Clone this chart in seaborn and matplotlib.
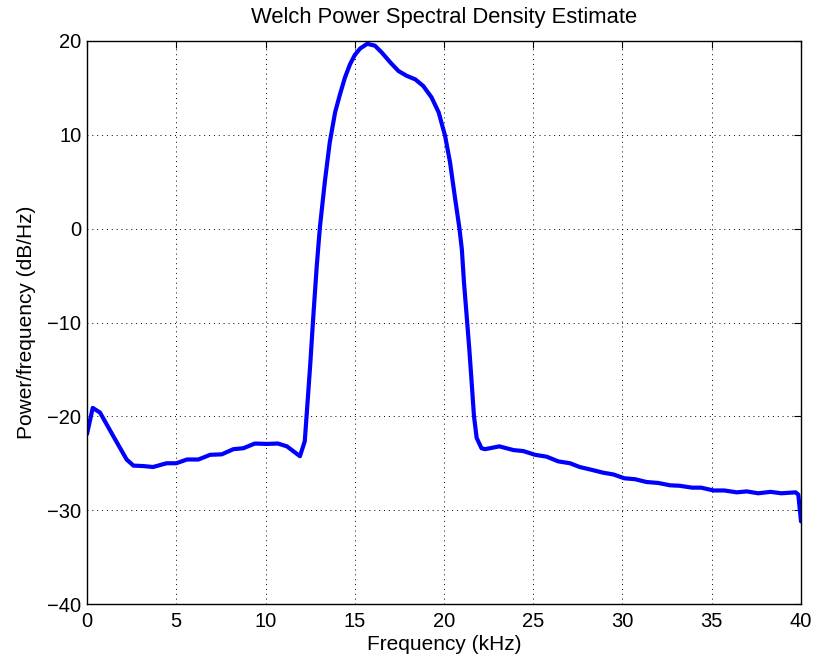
import matplotlib
matplotlib.use("Agg")
import matplotlib.pyplot as plt
import seaborn as sns
import pandas as pd

freq_khz = [0.0, 0.32, 0.73, 1.47, 2.22, 2.6, 3.15, 3.7, 4.46, 5.0, 5.6, 6.24, 6.9, 7.55,
            8.2, 8.76, 9.4, 10.07, 10.7, 11.2, 11.93, 12.2, 12.5, 12.68, 12.87, 13.05,
            13.33, 13.6, 13.9, 14.17, 14.45, 14.73, 15.0, 15.3, 15.7, 16.13, 16.5, 17.0,
            17.45, 17.9, 18.4, 18.84, 19.3, 19.7, 20.06, 20.34, 20.6, 20.86, 21.0, 21.12,
            21.27, 21.42, 21.55, 21.68, 21.83, 22.1, 22.3, 23.1, 23.9, 24.44, 25.1, 25.75,
            26.4, 27.06, 27.6, 28.27, 28.9, 29.5, 30.1, 30.7, 31.35, 32.0, 32.66, 33.2,
            33.9, 34.4, 35.1, 35.7, 36.4, 36.96, 37.6, 38.3, 38.9, 39.7, 39.85, 40.0]
psd_db = [-21.9, -19.1, -19.6, -22.1, -24.6, -25.25, -25.3, -25.4, -25.0, -25.0, -24.6,
          -24.6, -24.1, -24.05, -23.5, -23.4, -22.9, -22.94, -22.9, -23.2, -24.25, -22.65,
          -14.65, -9.3, -4.0, 0.2, 5.1, 9.2, 12.4, 14.3, 16.1, 17.5, 18.5, 19.2, 19.7,
          19.5, 18.8, 17.7, 16.8, 16.3, 15.9, 15.2, 14.0, 12.4, 9.9, 7.05, 3.5, 0.1, -2.2,
          -5.75, -9.3, -12.9, -16.4, -20.0, -22.3, -23.4, -23.5, -23.2, -23.6, -23.7,
          -24.1, -24.3, -24.8, -25.0, -25.4, -25.7, -26.0, -26.2, -26.6, -26.7, -27.0,
          -27.1, -27.35, -27.4, -27.6, -27.6, -27.9, -27.9, -28.1, -28.0, -28.2, -28.05,
          -28.2, -28.1, -28.35, -31.2]
x_ticks = [0, 5, 10, 15, 20, 25, 30, 35, 40]
y_ticks = [-40, -30, -20, -10, 0, 10, 20]

sns.set_style("white")
plt.rcParams["font.family"] = ["Liberation Sans", "DejaVu Sans"]
plt.rcParams["text.color"] = "black"
plt.rcParams["axes.labelcolor"] = "black"

df = pd.DataFrame({"Frequency (kHz)": freq_khz, "Power/frequency (dB/Hz)": psd_db})

fig = plt.figure(figsize=(8.17, 6.65), dpi=100)
ax = fig.add_axes([87 / 817, 61 / 665, 714 / 817, 563 / 665])
sns.lineplot(data=df, x="Frequency (kHz)", y="Power/frequency (dB/Hz)", ax=ax,
             color=(0, 0, 1), linewidth=3, sort=False, estimator=None)
ax.lines[0].set_solid_joinstyle("round")

ax.set_xlim(0, 40)
ax.set_ylim(-40, 20)
ax.set_xticks(x_ticks)
ax.set_yticks(y_ticks)
ax.grid(True, color="black", linestyle=(0, (1, 4)), linewidth=0.7)
for s in ax.spines.values():
    s.set_color("black")
    s.set_linewidth(1.0)
ax.tick_params(direction="in", length=5, width=0.8, top=True, right=True,
               labelsize=14.5, colors="black", labelcolor="black")
ax.tick_params(axis="x", pad=6)
ax.tick_params(axis="y", pad=4)
ax.set_xlabel("Frequency (kHz)", fontsize=15, labelpad=3, color="black")
ax.set_ylabel("Power/frequency (dB/Hz)", fontsize=15, labelpad=8, color="black")
ax.set_title("Welch Power Spectral Density Estimate", fontsize=15.8, pad=13, color="black")

fig.savefig("out.png", dpi=100)
